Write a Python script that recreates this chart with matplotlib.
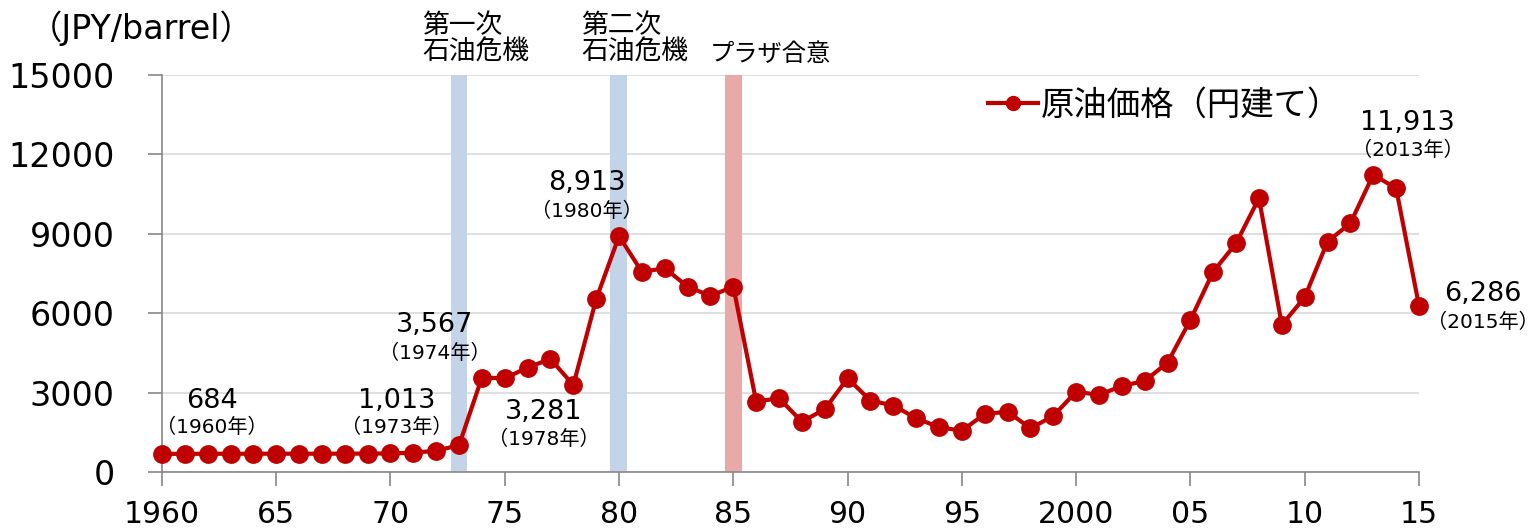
import numpy as np
import matplotlib
matplotlib.use("Agg")
import matplotlib.pyplot as plt

plt.rcParams['font.family'] = ['DejaVu Sans', 'Noto Sans CJK JP']

years = np.arange(1960, 2016)
price = [684, 686, 688, 688, 690, 690, 690, 690, 692, 695, 700, 730, 800, 1013,
         3567, 3540, 3945, 4270, 3281, 6530, 8913, 7560, 7700, 7005, 6650, 7005,
         2660, 2785, 1900, 2370, 3540, 2700, 2510, 2030, 1690, 1560, 2190, 2280,
         1650, 2115, 3035, 2910, 3250, 3440, 4130, 5745, 7570, 8640, 10345, 5560,
         6600, 8705, 9400, 11230, 10720, 6286]

tick_years = [1960, 1965, 1970, 1975, 1980, 1985, 1990, 1995, 2000, 2005, 2010, 2015]
tick_labels = ['1960', '65', '70', '75', '80', '85', '90', '95', '2000', '05', '10', '15']

event_spans = [(1972.65, 1973.35), (1979.6, 1980.35), (1984.65, 1985.4)]
event_labels = ['第一次\n石油危機', '第二次\n石油危機', 'プラザ合意']
event_colors = ['#C3D4E8', '#C3D4E8', '#E8A9A9']

callout_values = ['684', '1,013', '3,567', '3,281', '8,913', '11,913', '6,286']
callout_years = ['（1960年）', '（1973年）', '（1974年）', '（1978年）', '（1980年）',
                 '（2013年）', '（2015年）']

# label placement (data coords)
event_label_x = [1971.4, 1978.35, 1983.95]
event_label_size = [19.3, 19.3, 17.5]
callout_x = [1962.17, 1970.29, 1971.95, 1976.72, 1978.61, 2014.5, 2017.8]
callout_val_y = [2684, 2684, 5557, 2268, 10924, 13192, 6728]
callout_yr_y = [1701, 1701, 4498, 1247, 9828, 12134, 5670]

fig = plt.figure(figsize=(15.38, 5.28), dpi=100)
ax = fig.add_axes([0.1053, 0.1061, 0.8173, 0.7519])

for (x0, x1), col, lab, lx, fs in zip(event_spans, event_colors, event_labels,
                                      event_label_x, event_label_size):
    ax.axvspan(x0, x1, color=col, lw=0, zorder=1)
    ax.text(lx, 15350, lab, fontsize=fs, ha='left', va='bottom',
            linespacing=1.05, clip_on=False)

ax.plot(years, price, color='#C00000', lw=3, marker='o', ms=12.5,
        zorder=3, label='原油価格（円建て）', clip_on=False)

for val, yr, tx, vy, yy in zip(callout_values, callout_years, callout_x,
                               callout_val_y, callout_yr_y):
    ax.text(tx, vy, val, fontsize=19.5, ha='center', va='center')
    ax.text(tx, yy, yr, fontsize=14.5, ha='center', va='center')

ax.set_xlim(1960, 2015)
ax.set_ylim(0, 15000)
ax.set_yticks(np.arange(0, 15001, 3000))
ax.set_xticks(tick_years)
ax.set_xticklabels(tick_labels)
ax.tick_params(axis='both', length=10, width=1.2, color='#888888')
ax.tick_params(axis='x', labelsize=21.5, pad=10)
ax.tick_params(axis='y', labelsize=24, pad=24)
ax.grid(axis='y', color='#D9D9D9', lw=1.2, zorder=0)
ax.set_axisbelow(True)
for s in ['top', 'right']:
    ax.spines[s].set_visible(False)
for s in ['left', 'bottom']:
    ax.spines[s].set_color('#888888')
    ax.spines[s].set_linewidth(1.2)

fig.text(0.019, 0.912, '（JPY/barrel）', fontsize=24, ha='left', va='bottom')

ax.legend(loc='upper left', bbox_to_anchor=(0.633, 1.04), frameon=False,
          fontsize=24, handlelength=1.5, handletextpad=0.1, markerscale=0.8)

fig.savefig('out.png', dpi=100)
